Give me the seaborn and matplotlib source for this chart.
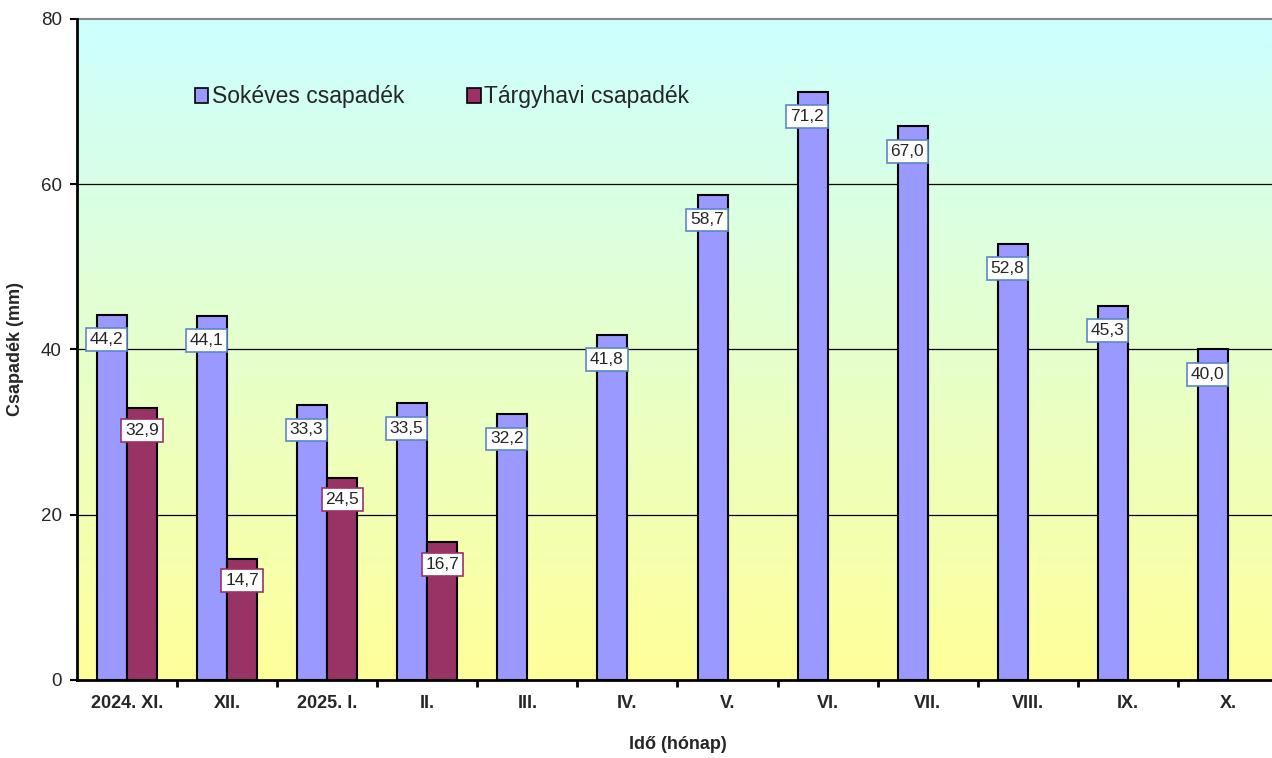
import numpy as np
import pandas as pd
import seaborn as sns
import matplotlib.pyplot as plt
from matplotlib.colors import LinearSegmentedColormap

months = ['2024. XI.', 'XII.', '2025. I.', 'II.', 'III.', 'IV.', 'V.', 'VI.', 'VII.', 'VIII.', 'IX.', 'X.']
sokeves = [44.2, 44.1, 33.3, 33.5, 32.2, 41.8, 58.7, 71.2, 67.0, 52.8, 45.3, 40.0]
targyhavi = [32.9, 14.7, 24.5, 16.7, None, None, None, None, None, None, None, None]
series_names = ['Sokéves csapadék', 'Tárgyhavi csapadék']
colors = ['#9999FF', '#993366']
box_edges = ['#5B87C9', '#993366']

df = pd.DataFrame({
    'month': months * 2,
    'value': sokeves + targyhavi,
    'series': [series_names[0]] * len(months) + [series_names[1]] * len(months),
})
df['value'] = df['value'].astype(float)

sns.set_theme(style='white')
plt.rcParams['font.family'] = ['Liberation Sans', 'DejaVu Sans']

fig = plt.figure(figsize=(12.72, 7.58), dpi=100)
ax = fig.add_axes([77 / 1272, 78 / 758, 1201 / 1272, 661 / 758])

# background gradient cyan -> light yellow
cmap = LinearSegmentedColormap.from_list('bg', ['#FFFF99', '#CCFFFF'])
grad = np.linspace(0, 1, 256).reshape(-1, 1)
ax.imshow(grad, cmap=cmap, aspect='auto', origin='lower',
          extent=[0, 1, 0, 1], transform=ax.transAxes, zorder=0)

sns.barplot(data=df, x='month', y='value', hue='series', palette=colors,
            width=0.6, edgecolor='black', linewidth=1.5, errorbar=None,
            saturation=1, ax=ax, zorder=3)

ax.set_ylim(0, 80)
ax.set_xlim(-0.5, len(months) - 0.5)
ax.set_yticks([0, 20, 40, 60, 80])
ax.tick_params(axis='y', labelsize=13.5, length=5, width=1.5, color='black', left=True, pad=6)
ax.tick_params(axis='x', which='major', length=0, labelsize=13, pad=11)
ax.set_xticks(np.arange(len(months) - 1) + 0.5, minor=True)
ax.tick_params(axis='x', which='minor', length=5, width=2, color='black', bottom=True)
for lab in ax.get_xticklabels():
    lab.set_fontweight('bold')

for y in [20, 40, 60]:
    ax.axhline(y, color='black', lw=0.9, zorder=1)

for side in ['left', 'bottom']:
    ax.spines[side].set_color('black')
    ax.spines[side].set_linewidth(2)
    ax.spines[side].set_zorder(5)
ax.spines['top'].set_color('#888888')
ax.spines['top'].set_linewidth(1.5)
ax.spines['right'].set_visible(False)

ax.set_xlabel('Idő (hónap)', fontsize=13, fontweight='bold', labelpad=17)
ax.set_ylabel('Csapadék (mm)', fontsize=13, fontweight='bold', labelpad=12)

# value labels
offsets = [(-4, -18), (0, -16)]
for cont, edge, off in zip(ax.containers, box_edges, offsets):
    for bar in cont:
        h = bar.get_height()
        if np.isnan(h) or h == 0:
            continue
        ax.annotate(f'{h:.1f}'.replace('.', ','),
                    (bar.get_x() + bar.get_width() / 2, h),
                    xytext=off, textcoords='offset points',
                    ha='center', va='center', fontsize=12.5, zorder=6,
                    bbox=dict(boxstyle='square,pad=0.22', fc='white', ec=edge, lw=1.2))

leg = ax.legend(loc='center left', bbox_to_anchor=(0.098, 0.882), ncol=2,
                frameon=False, fontsize=16.5, handlelength=0.6, handleheight=0.6,
                handletextpad=0.15, columnspacing=2.75, borderpad=0, borderaxespad=0)
for h in leg.legend_handles:
    h.set_edgecolor('black')
    h.set_linewidth(1.2)

plt.savefig('out.png', dpi=100)
